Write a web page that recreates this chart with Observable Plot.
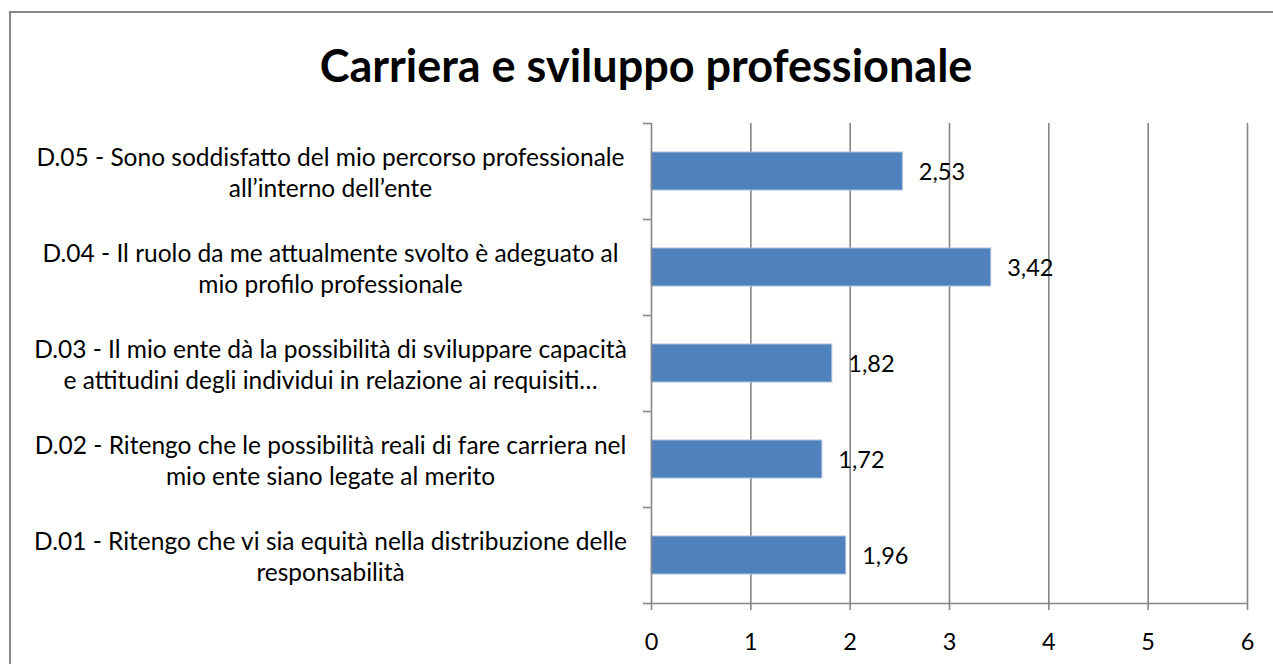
<!DOCTYPE html>
<html>
<head>
<meta charset="utf-8">
<script src="https://cdn.jsdelivr.net/npm/d3@7"></script>
<script src="https://cdn.jsdelivr.net/npm/@observablehq/plot@0.6"></script>
<style>
  html, body { margin: 0; padding: 0; background: #fff; overflow: hidden; }
  #frame { position: absolute; left: 9px; top: 11px; width: 1280px; height: 700px;
           border: 2px solid #898989; box-sizing: border-box; }
  #title { position: absolute; left: 0; top: 38px; width: 1292px; text-align: center;
           font-family: Lato, sans-serif; font-weight: bold; font-size: 45px; color: #000; line-height: 54px; }
  #chart { position: absolute; left: 0; top: 100px; }
</style>
</head>
<body>
<div id="frame"></div>
<div id="title">Carriera e sviluppo professionale</div>
<div id="chart"></div>
<script>
const categories = [
  "D.01 - Ritengo che vi sia equità nella distribuzione delle\nresponsabilità",
  "D.02 - Ritengo che le possibilità reali di fare carriera nel\nmio ente siano legate al merito",
  "D.03 - Il mio ente dà la possibilità di sviluppare capacità\ne attitudini degli individui in relazione ai requisiti…",
  "D.04 - Il ruolo da me attualmente svolto è adeguato al\nmio profilo professionale",
  "D.05 - Sono soddisfatto del mio percorso professionale\nall’interno dell’ente"
];
const values = [1.96, 1.72, 1.82, 3.42, 2.53];
const labels = ["1,96", "1,72", "1,82", "3,42", "2,53"];
const xTicks = [0, 1, 2, 3, 4, 5, 6];

const data = categories.map((c, i) => ({cat: c, i, value: values[i], label: labels[i]}));
const font = "Lato, sans-serif";

const chart = Plot.plot({
  width: 1273,
  height: 563,
  marginTop: 23,
  marginBottom: 60,
  marginLeft: 651,
  marginRight: 26,
  style: {fontFamily: font, fontSize: "23px", color: "#000", background: "transparent"},
  x: {domain: [0, 6], ticks: xTicks},
  y: {domain: [0, 5], ticks: [0, 1, 2, 3, 4, 5]},
  marks: [
    Plot.gridX(xTicks.slice(1), {stroke: "#868686", strokeOpacity: 1, strokeWidth: 1.6}),
    Plot.rectX(data, {x1: 0, x2: "value", y1: "i", y2: d => d.i + 1, insetTop: 29, insetBottom: 29,
      fill: "#4F81BD", stroke: "#A7C0DE", strokeWidth: 1}),
    Plot.text(data, {x: "value", y: d => d.i + 0.5, text: "label", textAnchor: "start", dx: 16, dy: 1,
      fontSize: 23.5, fill: "#000"}),
    Plot.text(data, {y: d => d.i + 0.5, text: "cat", frameAnchor: "left", dx: -321, textAnchor: "middle",
      lineHeight: 1.25, fontSize: 24.5, fill: "#000"}),
    Plot.axisY({ticks: [0, 1, 2, 3, 4, 5], tickFormat: () => "", tickSize: 8, stroke: "#868686", strokeWidth: 1.6, label: null}),
    Plot.ruleX([0], {stroke: "#868686", strokeWidth: 1.6}),
    Plot.ruleY([0], {stroke: "#868686", strokeWidth: 1.6}),
    Plot.axisX({ticks: xTicks, tickSize: 7, tickPadding: 23, stroke: "#868686", strokeWidth: 1.6,
      label: null, fontSize: 23.5, tickFormat: d => String(d)})
  ]
});
chart.querySelectorAll("text").forEach(t => t.setAttribute("fill", "#000"));
document.getElementById("chart").appendChild(chart);
</script>
</body>
</html>
